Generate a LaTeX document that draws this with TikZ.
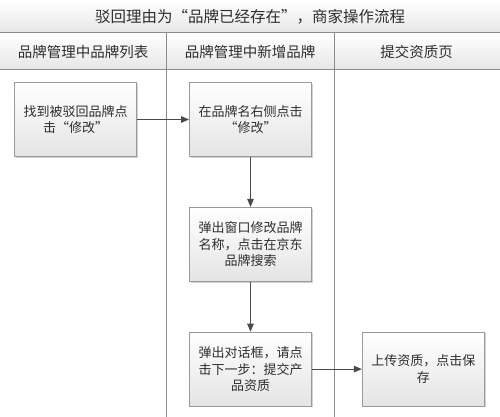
\documentclass[tikz,border=0pt]{standalone}
\usepackage{fontspec}
\setmainfont{Noto Sans CJK SC}
\usetikzlibrary{positioning,shadows,arrows.meta}

\definecolor{textgray}{HTML}{2E2E2E}
\definecolor{linegray}{HTML}{8C8C8C}
\definecolor{boxgray}{HTML}{9A9A9A}
\definecolor{boxfill}{HTML}{E4E4E4}
\definecolor{bandgray}{HTML}{E6E6E6}
\definecolor{arrowgray}{HTML}{4A4A4A}

\begin{document}
\begin{tikzpicture}[x=1pt,y=-1pt, every node/.style={text=textgray}]

\tikzset{procbox/.style={draw=boxgray, line width=0.8pt, top color=white, bottom color=boxfill,
  minimum width=122pt, minimum height=74pt, align=center, inner sep=2pt,
  font=\fontsize{13}{16.5}\selectfont,
  drop shadow={shadow xshift=1.2pt, shadow yshift=-1.2pt, opacity=0.35, fill=black!50}},
%lane headers and the title
headtext/.style={font=\fontsize{14.5}{17}\selectfont},
flow/.style={arrows=-{Triangle[length=8pt,width=6.5pt]}, draw=arrowgray, line width=1pt}}

\newcommand{\picwidth}{500}
\newcommand{\picheight}{417}
\newcommand{\titlebottom}{33}
\newcommand{\headbottom}{70}
\newcommand{\laneone}{166.5}
\newcommand{\lanetwo}{334}

\useasboundingbox (0,0) rectangle (\picwidth,\picheight);
\fill [white] (0,0) rectangle (\picwidth,\picheight);

\shade [top color=white,bottom color=bandgray] (0,0) rectangle (\picwidth,\titlebottom);
\shade [top color=white,bottom color=bandgray] (0,\titlebottom) rectangle (\picwidth,\headbottom);

\draw [linegray,line width=1pt] (0,\titlebottom) -- (\picwidth,\titlebottom);
\draw [linegray,line width=1pt] (0,\headbottom) -- (\picwidth,\headbottom);
\draw [linegray,line width=1pt] (\laneone,\titlebottom) -- (\laneone,\picheight);
\draw [linegray,line width=1pt] (\lanetwo,\titlebottom) -- (\lanetwo,\picheight);

\node [font=\fontsize{15.5}{18}\selectfont] (title) at (250,16.5) {驳回理由为“品牌已经存在”，商家操作流程};
\node [headtext] (headlist) at (83,51.5) {品牌管理中品牌列表};
\node [headtext] (headnew) at (250,51.5) {品牌管理中新增品牌};
\node [headtext] (headcert) at (416.5,51.5) {提交资质页};

\node [procbox] (modify) at (250.5,119.5) {在品牌名右侧点击\\“修改”};
\node [procbox, left=52pt of modify] (find) {找到被驳回品牌点\\击“修改”};
\node [procbox, below=50pt of modify] (popup) {弹出窗口修改品牌\\名称，点击在京东\\品牌搜索};
\node [procbox, below=50pt of popup] (dialog) {弹出对话框，请点\\击下一步：提交产\\品资质};
\node [procbox, right=50pt of dialog] (upload) {上传资质，点击保\\存};

\draw [flow] (find) -- (modify);
\draw [flow] (modify) -- (popup);
\draw [flow] (popup) -- (dialog);
\draw [flow] (dialog) -- (upload);

\end{tikzpicture}
\end{document}
